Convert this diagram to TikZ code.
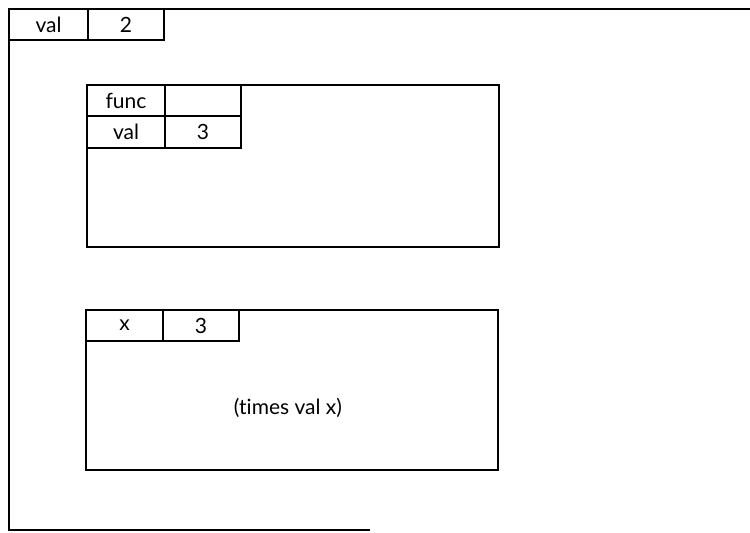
\documentclass[tikz,border=0pt]{standalone}
\usepackage{fontspec}
\setmainfont{Lato}[RawFeature=-liga]
\begin{document}
\begin{tikzpicture}[x=1pt,y=-1pt,
  line width=1.3pt,
  lbl/.style={font=\fontsize{21}{24}\selectfont},
  cell/.style={draw, rectangle, inner sep=0pt, outer sep=0pt, anchor=north west, lbl},
  framebox/.style={draw, rectangle, anchor=north west, inner sep=0pt, outer sep=0pt}]
\useasboundingbox (0,0) rectangle (750,533);

% global environment: open frame with its binding table
\coordinate (gtl) at (9,9);
\coordinate (gtr) at (750,9);
\coordinate (gbl) at (9,530);
\coordinate (gbr) at (370,530);
\draw (gtr) -- (gtl) -- (gbl) -- (gbr);
\node[cell, minimum width=79pt, minimum height=31pt] (gval) at (9,9) {val};
\node[cell, minimum width=76pt, minimum height=31pt] (g2) at (gval.north east) {2};

% first frame: func / val
\node[framebox, minimum width=412pt, minimum height=162pt] (fa) at (87,85) {};
\node[cell, minimum width=78pt, minimum height=31pt] (afunc) at (fa.north west) {func};
\node[cell, minimum width=76pt, minimum height=31pt] (afv) at (afunc.north east) {};
\node[cell, minimum width=78pt, minimum height=32pt] (aval) at (afunc.south west) {val};
\node[cell, minimum width=76pt, minimum height=32pt] (a3) at (aval.north east) {3};

% second frame: x = 3, body (times val x)
\node[framebox, minimum width=412pt, minimum height=160pt] (fb) at (86,310) {};
\node[cell, minimum width=77pt, minimum height=31pt] (bx) at (fb.north west) {x};
\node[cell, minimum width=76pt, minimum height=31pt] (b3) at (bx.north east) {3};
\node[lbl] (body) at (288,408) {(times val x)};
\end{tikzpicture}
\end{document}
